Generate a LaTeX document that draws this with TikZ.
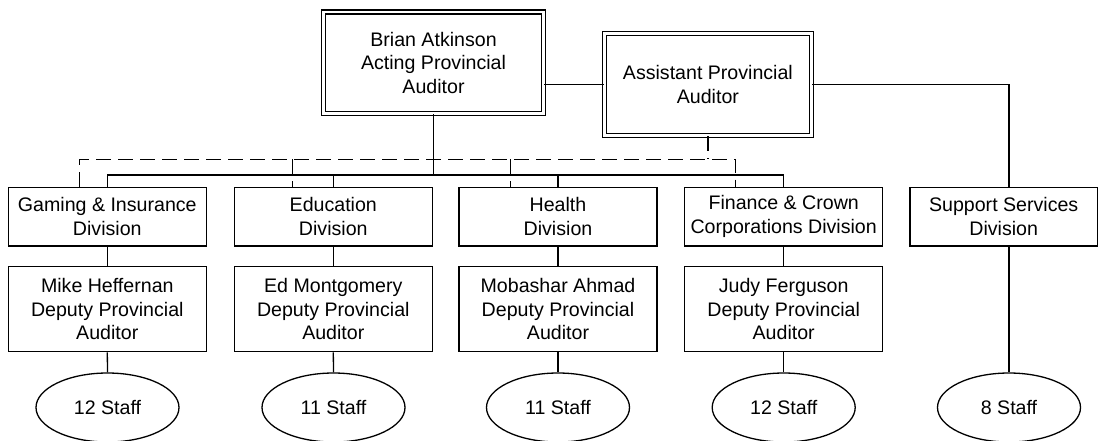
\documentclass[tikz,border=0pt]{standalone}
\usepackage{fontspec}
\setmainfont{Liberation Sans}
\usetikzlibrary{shapes.geometric}
\begin{document}
\begin{tikzpicture}[x=1pt,y=-1pt,
  txt/.style={font=\fontsize{19.6}{23.7}\selectfont, align=center, inner sep=0pt},
  box/.style={txt, draw, line width=1.3pt, rectangle, minimum width=198pt},
  divbox/.style={box, minimum height=58.7pt},
  depbox/.style={box, minimum height=85pt},
  dbox/.style={txt, draw, line width=1.3pt, double, double distance=2.6pt, rectangle},
  staff/.style={txt, draw, line width=1.3pt, ellipse, minimum width=143pt, minimum height=69pt},
  conn/.style={line width=1.3pt},
  dconn/.style={line width=1.3pt, dash pattern=on 15pt off 7pt}]
\useasboundingbox (0,0) rectangle (1098,440);

\node[dbox, minimum width=220.4pt, minimum height=101.5pt] (brian) at (433.5,62.75) {Brian Atkinson\\Acting Provincial\\Auditor};
\node[dbox, minimum width=207.1pt, minimum height=102.4pt] (asst) at (707.9,84.5) {Assistant Provincial\\Auditor};

\node[divbox] (gd) at (107.3,216.5) {Gaming \& Insurance\\Division};
\node[divbox] (ed) at (333.3,216.5) {Education\\Division};
\node[divbox] (hd) at (558,216.5) {Health\\Division};
\node[divbox] (fd) at (783.7,216.5) {Finance \& Crown\\Corporations Division};
\node[divbox, minimum width=187.3pt] (sd) at (1003.7,216.5) {Support Services\\Division};

\node[depbox] (gp) at (107.3,309.2) {Mike Heffernan\\Deputy Provincial\\Auditor};
\node[depbox] (ep) at (333.3,309.2) {Ed Montgomery\\Deputy Provincial\\Auditor};
\node[depbox] (hp) at (558,309.2) {Mobashar Ahmad\\Deputy Provincial\\Auditor};
\node[depbox] (fp) at (783.7,309.2) {Judy Ferguson\\Deputy Provincial\\Auditor};

\node[staff] (gs) at (107.5,407.5) {12 Staff};
\node[staff] (es) at (333.5,407.5) {11 Staff};
\node[staff] (hs) at (558,407.5) {11 Staff};
\node[staff] (fs) at (783.7,407.5) {12 Staff};
\node[staff] (ss) at (1009,407.5) {8 Staff};

\coordinate (bus) at (433.5,175);
\coordinate (dbus) at (0,159.3);
\coordinate (d1) at (79.3,0);
\coordinate (d2) at (292.7,0);
\coordinate (d3) at (510.7,0);
\coordinate (d4) at (735.7,0);

% top connections
\draw[conn] (asst.west -| brian.east) -- (asst.west);
\draw[conn] (asst.east) -| (ss.north |- sd.north);
\draw[conn] (ss.north |- sd.south) -- (ss.north);

% solid bus
\draw[conn] (brian.south) -- (bus);
\draw[conn] (gd.north) |- (fd.north |- bus) -- (fd.north);
\draw[conn] (ed.north) -- (ed.north |- bus);
\draw[conn] (hd.north) -- (hd.north |- bus);

% dashed bus
\draw[dconn] (d1 |- gd.north) -- (d1 |- dbus) -- (d4 |- dbus) -- (d4 |- fd.north);
\draw[dconn] (d2 |- dbus) -- (d2 |- ed.north);
\draw[dconn] (d3 |- dbus) -- (d3 |- hd.north);
\draw[dconn] (asst.south) -- (asst.south |- dbus);

% vertical chains
\foreach \d/\p/\s in {gd/gp/gs, ed/ep/es, hd/hp/hs, fd/fp/fs}{
  \draw[conn] (\d.south) -- (\p.north);
  \draw[conn] (\p.south) -- (\s.north);
}
\end{tikzpicture}
\end{document}
